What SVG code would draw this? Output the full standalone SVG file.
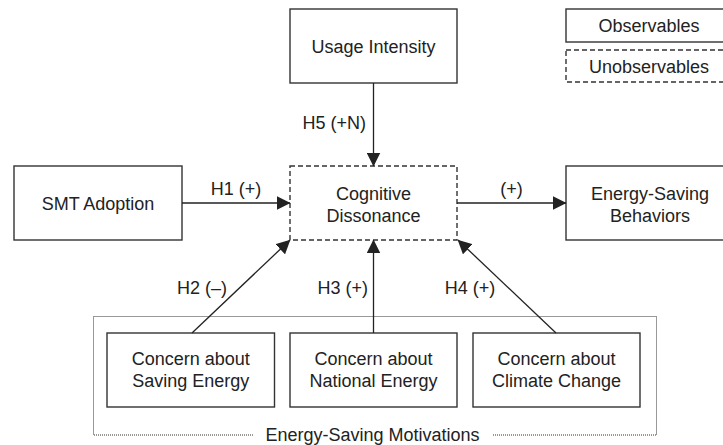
<svg xmlns="http://www.w3.org/2000/svg" width="723" height="445" viewBox="0 0 723 445">
<defs>
<marker id="arr" markerUnits="userSpaceOnUse" markerWidth="14" markerHeight="14" viewBox="0 0 13 13" refX="12.5" refY="6.5" orient="auto">
<path d="M0,0 L13,6.5 L0,13 z" fill="#222"/>
</marker>
<style>
.box{fill:#fff;stroke:#333;stroke-width:1.4}
.dash{fill:#fff;stroke:#333;stroke-width:1.4;stroke-dasharray:5,3}
.grp{fill:none;stroke:#333;stroke-width:1;stroke-dasharray:1,1}
.t{font-family:"Liberation Sans",Arial,sans-serif;font-size:18px;fill:#222;text-anchor:middle}
.e{text-anchor:end}
.ln{stroke:#222;stroke-width:1.3;fill:none}
</style>
</defs>
<rect width="723" height="445" fill="#fff"/>
<g id="group-motivations">
<path class="grp" d="M253,435 H93.5 V316.5 H656.5 V435 H493"/>
<text class="t" x="372.5" y="441">Energy-Saving Motivations</text>
</g>
<g id="legend">
<rect class="box" x="566" y="9" width="167" height="33"/>
<text class="t" x="649" y="32">Observables</text>
<rect class="dash" x="566" y="50" width="167" height="32"/>
<text class="t" x="649" y="72.5">Unobservables</text>
</g>
<g id="usage-intensity">
<rect class="box" x="290" y="9" width="167" height="74"/>
<text class="t" x="373.5" y="52.5">Usage Intensity</text>
</g>
<g id="smt-adoption">
<rect class="box" x="14" y="166" width="168" height="74"/>
<text class="t" x="98" y="209.5">SMT Adoption</text>
</g>
<g id="cognitive-dissonance">
<rect class="dash" x="290" y="166" width="167" height="74"/>
<text class="t" x="373.5" y="199.5">Cognitive</text>
<text class="t" x="373.5" y="221.5">Dissonance</text>
</g>
<g id="energy-saving-behaviors">
<rect class="box" x="566" y="166" width="167" height="74"/>
<text class="t" x="650" y="199.5">Energy-Saving</text>
<text class="t" x="650" y="221.5">Behaviors</text>
</g>
<g id="concern-saving">
<rect class="box" x="107" y="333" width="167.5" height="74"/>
<text class="t" x="190.75" y="365">Concern about</text>
<text class="t" x="190.75" y="387">Saving Energy</text>
</g>
<g id="concern-national">
<rect class="box" x="290" y="333" width="167" height="74"/>
<text class="t" x="373.5" y="365">Concern about</text>
<text class="t" x="373.5" y="387">National Energy</text>
</g>
<g id="concern-climate">
<rect class="box" x="473" y="333" width="167" height="74"/>
<text class="t" x="556.5" y="365">Concern about</text>
<text class="t" x="556.5" y="387">Climate Change</text>
</g>
<g id="connectors">
<line class="ln" x1="182" y1="203" x2="290" y2="203" marker-end="url(#arr)"/>
<line class="ln" x1="457" y1="203" x2="566" y2="203" marker-end="url(#arr)"/>
<line class="ln" x1="373.5" y1="83" x2="373.5" y2="166" marker-end="url(#arr)"/>
<line class="ln" x1="373.5" y1="333" x2="373.5" y2="240" marker-end="url(#arr)"/>
<line class="ln" x1="192" y1="333" x2="290" y2="240" marker-end="url(#arr)"/>
<line class="ln" x1="556" y1="333" x2="458" y2="240" marker-end="url(#arr)"/>
<text class="t" x="236" y="194.5">H1 (+)</text>
<text class="t" x="511.5" y="194.5">(+)</text>
<text class="t e" x="366" y="128.5">H5 (+N)</text>
<text class="t" x="202" y="293.5">H2 (–)</text>
<text class="t e" x="368" y="293.5">H3 (+)</text>
<text class="t" x="470" y="293.5">H4 (+)</text>
</g>
</svg>
